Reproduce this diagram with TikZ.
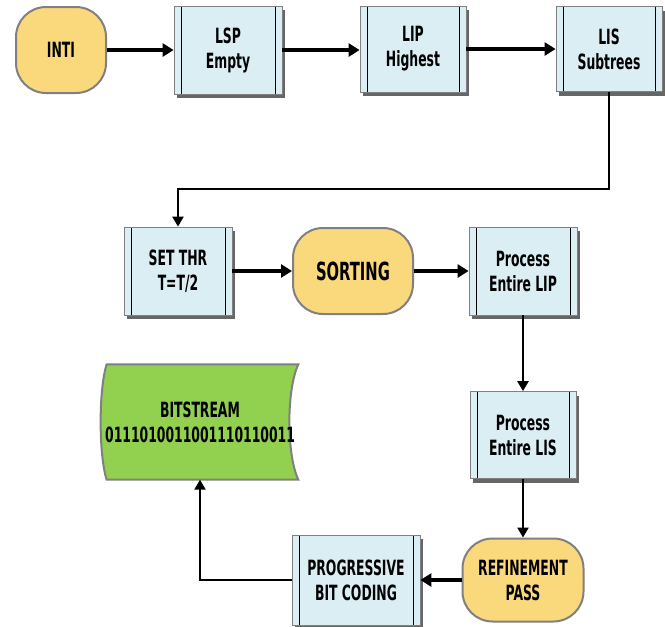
\documentclass[tikz,border=0pt]{standalone}
\usepackage{fontspec}
\newfontfamily\flowfont[FakeStretch=0.59]{DejaVu Sans}
\usetikzlibrary{positioning,arrows.meta,shadows,backgrounds,calc}
\definecolor{termyel}{RGB}{250,217,125}
\definecolor{procblue}{RGB}{219,238,243}
\definecolor{bitgreen}{RGB}{146,208,80}
\definecolor{edgegray}{RGB}{128,128,128}
\tikzset{
  term/.style   = {draw=edgegray, line width=2pt, fill=termyel, rounded corners=30pt, align=center,
                   minimum width=90pt, minimum height=86pt, font=\flowfont\bfseries\fontsize{21pt}{25pt}\selectfont},
  proc/.style   = {draw=edgegray, line width=0.8pt, fill=procblue, align=center,
                   minimum width=108pt, minimum height=88pt, font=\flowfont\bfseries\fontsize{21pt}{25pt}\selectfont,
                   drop shadow={shadow xshift=3pt, shadow yshift=-4pt, fill=black!75, opacity=0.8},
                   path picture={\draw[black, line width=0.8pt]
                     ([xshift=7pt]path picture bounding box.north west) -- ([xshift=7pt]path picture bounding box.south west)
                     ([xshift=-7pt]path picture bounding box.north east) -- ([xshift=-7pt]path picture bounding box.south east);}},
  store/.style  = {align=center, minimum width=196pt, minimum height=115pt,
                   font=\flowfont\bfseries\fontsize{21pt}{25pt}\selectfont},
  storeline/.style = {draw=edgegray, line width=2pt, fill=bitgreen},
  arrow/.style  = {-{Triangle[length=11pt,width=13pt]}, line width=3.5pt},
  link/.style   = {-{Triangle[length=10pt,width=11pt]}, line width=2.2pt},
}

\begin{document}
\begin{tikzpicture}[x=1pt, y=-1pt]
  \useasboundingbox (0,0) rectangle (665,627);
  % top row
  \node[term] (inti) at (61,50) {INTI};
  \node[proc] (lsp) at (228,50) {LSP\\Empty};
  \node[proc, minimum width=106pt, minimum height=86pt] (lip) at (413,49) {LIP\\Highest};
  \node[proc, minimum width=106pt, minimum height=85pt] (lis) at (609,49) {LIS\\Subtrees};
  % second row
  \node[proc] (set) at (178,271) {SET THR\\T=T/2};
  \node[term, minimum width=120pt, font=\flowfont\bfseries\fontsize{25pt}{28pt}\selectfont] (sort) at (353,271) {SORTING};
  \node[proc] (plip) at (523,271) {Process\\Entire LIP};
  \node[proc, minimum width=106pt, minimum height=87pt] (plis) at (523,435) {Process\\Entire LIS};
  % bottom row
  \node[term, minimum width=121pt, minimum height=83pt] (refine) at (523,580) {REFINEMENT\\PASS};
  \node[proc, minimum width=128pt, minimum height=90pt] (prog) at (356,580) {PROGRESSIVE\\BIT CODING};
  \node[store] (bits) at (200,422) {BITSTREAM\\0111010011001110110011};
  \begin{scope}[on background layer]
    \path[storeline] ([xshift=5pt]bits.north west) -- (bits.north east)
      .. controls ($(bits.north east)+(-12,25)$) and ($(bits.south east)+(-12,-25)$) .. (bits.south east)
      -- ([xshift=5pt]bits.south west)
      .. controls ($(bits.south west)+(-3,-25)$) and ($(bits.north west)+(-3,25)$) .. ([xshift=5pt]bits.north west) -- cycle;
  \end{scope}
  \draw[arrow] (inti) -- (lsp); \draw[arrow] (lsp.east) -- (lsp.east -| lip.west); \draw[arrow] (lip) -- (lis);
  \draw[link] (lis.south) -- ++(0,97) -| (set.north);
  \draw[arrow] (set) -- (sort); \draw[arrow] (sort) -- (plip);
  \draw[link, line width=2.8pt] (plip) -- (plis); \draw[link, line width=2.8pt] (plis) -- (refine);
  \draw[arrow] (refine) -- (prog);
  \draw[link] (prog.west) -| (bits.south);
\end{tikzpicture}
\end{document}
